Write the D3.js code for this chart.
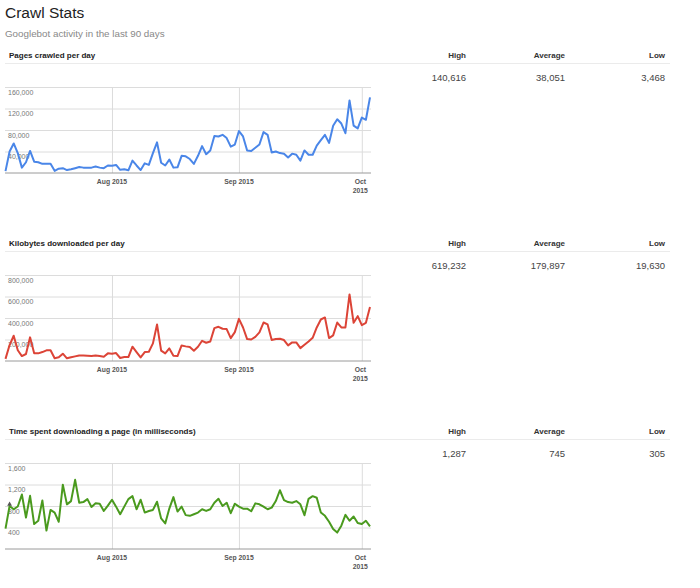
<!DOCTYPE html>
<html>
<head>
<meta charset="utf-8">
<script src="https://cdn.jsdelivr.net/npm/d3@7"></script>
<style>
body { margin: 0; background: #fff; }
svg { font-family: Arial, "Liberation Sans", sans-serif; }
</style>
</head>
<body>
<svg></svg>
<script>
// 90 days of Googlebot activity, starting Jul 6 2015
var startDay = new Date(2015, 6, 6);
var dayCount = 90;

var pagesCrawled = [
	3468, 40000, 55000, 37000, 10000, 20000, 41000, 21000, 20000, 17000,
	17000, 17000, 4000, 8000, 9000, 5500, 7000, 9000, 11000, 10000,
	10000, 10000, 12000, 10000, 9000, 14000, 13500, 15000, 6000, 7000,
	5000, 23000, 14000, 5500, 18000, 15000, 37000, 57000, 19000, 14000,
	25000, 10000, 10500, 32000, 31000, 26000, 17000, 32000, 50000, 35000,
	42000, 69000, 68000, 71000, 65000, 49000, 53000, 78000, 68000, 42000,
	41000, 47000, 53000, 76000, 71000, 38000, 40000, 37000, 36000, 29000,
	36000, 34000, 23000, 42000, 34000, 34000, 51000, 61000, 71000, 56000,
	88000, 100000, 92000, 74000, 135000, 88000, 83000, 103000, 99000, 140616
];
var kilobytesDownloaded = [
	19630, 148000, 235000, 100000, 46000, 65000, 220000, 71000, 71000, 83000,
	99000, 100000, 25000, 34000, 68000, 25000, 34000, 43000, 52000, 52000,
	49000, 46000, 52000, 46000, 40000, 71000, 68000, 74000, 28000, 37000,
	37000, 133000, 83000, 34000, 83000, 86000, 164000, 340000, 96000, 71000,
	117000, 49000, 46000, 145000, 136000, 131000, 96000, 133000, 188000, 170000,
	182000, 306000, 318000, 300000, 297000, 213000, 269000, 392000, 312000, 204000,
	200000, 225000, 266000, 358000, 340000, 195000, 204000, 207000, 195000, 145000,
	173000, 173000, 120000, 151000, 182000, 216000, 312000, 386000, 405000, 213000,
	238000, 358000, 312000, 312000, 619232, 355000, 417000, 334000, 355000, 503000
];
var timeSpent = [
	380, 800, 740, 790, 1014, 586, 989, 464, 525, 904,
	342, 727, 678, 507, 1197, 830, 891, 1287, 861, 873,
	928, 783, 849, 843, 708, 806, 916, 788, 647, 788,
	928, 983, 739, 916, 678, 708, 727, 879, 568, 476,
	752, 965, 696, 788, 630, 617, 647, 678, 739, 708,
	739, 861, 934, 800, 861, 666, 843, 788, 751, 751,
	702, 849, 831, 788, 739, 770, 892, 1093, 910, 873,
	861, 892, 831, 629, 934, 983, 953, 678, 617, 507,
	373, 305, 434, 635, 525, 605, 482, 464, 525, 421
];

var pagesTicks = [40000, 80000, 120000, 160000];
var kilobytesTicks = [200000, 400000, 600000, 800000];
var timeTicks = [400, 800, 1200, 1600];

var monthTicks = [new Date(2015, 7, 1), new Date(2015, 8, 1), new Date(2015, 9, 1)];
var monthLabels = [["Aug 2015"], ["Sep 2015"], ["Oct", "2015"]];

var statLabels = ["High", "Average", "Low"];
var pagesStats = ["140,616", "38,051", "3,468"];
var kilobytesStats = ["619,232", "179,897", "19,630"];
var timeStats = ["1,287", "745", "305"];

// small annotation marker on the time chart
var timeMarkers = [{day: 1, value: 830}];

var svg = d3.select('svg')
	.attr('width', 700)
	.attr('height', 588);

svg.append('text')
	.attr('x', 5).attr('y', 18)
	.attr('font-size', 15.5).attr('fill', '#222')
	.text('Crawl Stats');
svg.append('text')
	.attr('x', 5).attr('y', 37)
	.attr('font-size', 9.8).attr('fill', '#888')
	.text('Googlebot activity in the last 90 days');

var dates = d3.timeDay.range(startDay, d3.timeDay.offset(startDay, dayCount));
var x = d3.scaleTime()
	.domain([dates[0], dates[dates.length - 1]])
	.range([5.5, 370]);

var statX = [466, 565, 665];
var panelGap = 188;
var plotTop = 87, plotBottom = 173, gridLeft = 5, gridRight = 371;

drawPanel(0, 'Pages crawled per day', pagesCrawled, pagesTicks, '#4a86e8', pagesStats, []);
drawPanel(1, 'Kilobytes downloaded per day', kilobytesDownloaded, kilobytesTicks, '#dc4437', kilobytesStats, []);
drawPanel(2, 'Time spent downloading a page (in milliseconds)', timeSpent, timeTicks, '#4a9a1e', timeStats, timeMarkers);

function drawPanel(k, title, values, ticks, color, stats, markers){
	var g = svg.append('g').attr('transform', 'translate(0,' + (k * panelGap) + ')');

	g.append('text')
		.attr('x', 9).attr('y', 58)
		.attr('font-size', 8).attr('font-weight', 'bold').attr('fill', '#222')
		.text(title);
	g.append('line')
		.attr('x1', 5).attr('x2', 670)
		.attr('y1', 63.5).attr('y2', 63.5)
		.attr('stroke', '#ebebeb');

	g.selectAll('.stat-label')
		.data(statLabels)
		.enter()
		.append('text')
			.attr('class', 'stat-label')
			.attr('x', function(d, i){return statX[i]})
			.attr('y', 58)
			.attr('text-anchor', 'end')
			.attr('font-size', 8).attr('font-weight', 'bold').attr('fill', '#333')
			.text(function(d){return d});
	g.selectAll('.stat-value')
		.data(stats)
		.enter()
		.append('text')
			.attr('class', 'stat-value')
			.attr('x', function(d, i){return statX[i]})
			.attr('y', 80.5)
			.attr('text-anchor', 'end')
			.attr('font-size', 9.5).attr('fill', '#444')
			.text(function(d){return d});

	var y = d3.scaleLinear()
		.domain([0, d3.max(ticks)])
		.range([plotBottom, plotTop]);

	// horizontal gridlines
	var yGrid = g.append('g')
		.attr('transform', 'translate(' + gridLeft + ',0)')
		.call(d3.axisLeft(y).tickValues(ticks).tickSize(-(gridRight - gridLeft)).tickFormat(''));
	yGrid.select('.domain').remove();
	yGrid.selectAll('line').attr('stroke', '#dcdcdc');

	// vertical month gridlines
	var xGrid = g.append('g')
		.attr('transform', 'translate(0,' + plotBottom + ')')
		.call(d3.axisBottom(x).tickValues(monthTicks).tickSize(-(plotBottom - plotTop)).tickFormat(''));
	xGrid.select('.domain').remove();
	xGrid.selectAll('line').attr('stroke', '#dcdcdc');

	g.append('line')
		.attr('x1', gridLeft).attr('x2', gridRight)
		.attr('y1', y(0)).attr('y2', y(0))
		.attr('stroke', '#9a9a9a');

	g.selectAll('.y-label')
		.data(ticks)
		.enter()
		.append('text')
			.attr('class', 'y-label')
			.attr('x', 8)
			.attr('y', function(d){return y(d) + 7.5})
			.attr('font-size', 7).attr('fill', '#777')
			.text(function(d){return d3.format(',')(d)});

	monthTicks.forEach(function(d, i){
		var label = g.append('text')
			.attr('x', x(d) - (i == 2 ? 1.5 : 0))
			.attr('y', 183.5)
			.attr('text-anchor', 'middle')
			.attr('font-size', 6.8).attr('font-weight', 'bold').attr('fill', '#555');
		monthLabels[i].forEach(function(t, j){
			label.append('tspan')
				.attr('x', x(d) - (i == 2 ? 1.5 : 0))
				.attr('dy', j == 0 ? 0 : 9)
				.text(t);
		});
	});

	var line = d3.line()
		.x(function(d, i){return x(dates[i])})
		.y(function(d){return y(d)});
	g.append('path')
		.datum(values)
		.attr('d', line)
		.attr('fill', 'none')
		.attr('stroke', color)
		.attr('stroke-width', 2)
		.attr('stroke-linejoin', 'round');

	g.selectAll('.marker')
		.data(markers)
		.enter()
		.append('path')
			.attr('class', 'marker')
			.attr('d', d3.symbol().type(d3.symbolTriangle).size(10))
			.attr('transform', function(d){return 'translate(' + x(dates[d.day]) + ',' + y(d.value) + ')'})
			.attr('fill', '#555');
}
</script>
</body>
</html>
